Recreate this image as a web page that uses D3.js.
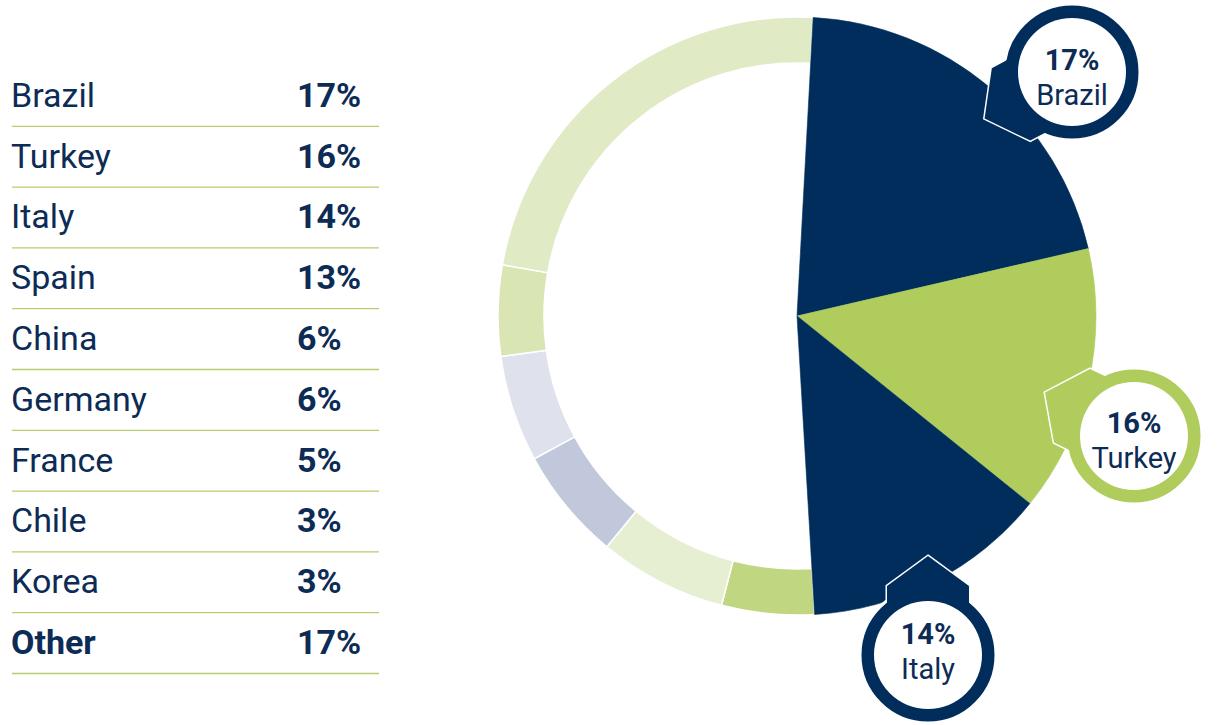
<!DOCTYPE html>
<html>
<head>
<meta charset="utf-8">
<script src="https://cdn.jsdelivr.net/npm/d3@7"></script>
<style>
  html, body { margin: 0; padding: 0; background: #ffffff; }
  svg { display: block; }
  text { font-family: Roboto, "Noto Sans", sans-serif; }
</style>
</head>
<body>
<svg id="chart" width="1219" height="725"></svg>
<script>
// ---- data ----
const countries = ["Brazil", "Turkey", "Italy", "Spain", "China", "Germany", "France", "Chile", "Korea", "Other"];
const shares = [17, 16, 14, 13, 6, 6, 5, 3, 3, 17];
const shareLabels = ["17%", "16%", "14%", "13%", "6%", "6%", "5%", "3%", "3%", "17%"];

// pie slices as drawn in the picture (share of the full circle, %)
const pieSliceShares = [20.5, 14.4, 13.25, 5.0, 6.9, 6.1, 5.75, 4.9, 23.1];
const pieSliceKinds = ["full", "full", "full", "ring", "ring", "ring", "ring", "ring", "ring"];
const pieSliceColors = ["#002d5b", "#afcc5d", "#002d5b", "#c1d680", "#e7efd3", "#c2c8db", "#dfe1ed", "#d9e5b3", "#e0eac5"];

// callouts
const calloutCountries = ["Brazil", "Turkey", "Italy"];
const calloutColors = ["#002d5b", "#afcc5d", "#002d5b"];

// ---- layout ----
const svg = d3.select("#chart");
const navyText = "#0c2b55";
const lineGreen = "#b4cf6b";

// table
const rowY = d3.scaleBand().domain(countries).range([65, 673]).paddingInner(0).paddingOuter(0);
const table = svg.append("g");
countries.forEach((c, i) => {
  const y0 = rowY(c);
  const bottom = y0 + rowY.bandwidth();
  table.append("line")
    .attr("x1", 12).attr("x2", 379)
    .attr("y1", bottom + 0.5).attr("y2", bottom + 0.5)
    .attr("stroke", lineGreen).attr("stroke-width", 1.3);
  table.append("text")
    .attr("x", 11).attr("y", bottom - 19)
    .attr("fill", navyText)
    .attr("font-size", 34)
    .attr("font-weight", c === "Other" ? 700 : 400)
    .text(c);
  table.append("text")
    .attr("x", 297).attr("y", bottom - 19)
    .attr("fill", navyText)
    .attr("font-size", 34)
    .attr("font-weight", 700)
    .text(shareLabels[i]);
});

// pie
const cx = 797, cy = 316, rOuter = 299, rInner = 253;
const deg = Math.PI / 180;
const pie = d3.pie().sort(null).value(d => d.v)
  .startAngle(3.1 * deg).endAngle((360 + 3.1) * deg);
const pieData = pie(pieSliceShares.map((v, i) => ({ v, kind: pieSliceKinds[i], color: pieSliceColors[i] })));
const arcFull = d3.arc().innerRadius(0).outerRadius(rOuter);
const arcRing = d3.arc().innerRadius(rInner).outerRadius(rOuter);
const pg = svg.append("g").attr("transform", `translate(${cx},${cy})`);
pg.selectAll("path.ring").data(pieData.filter(d => d.data.kind === "ring")).join("path")
  .attr("class", "ring")
  .attr("d", arcRing)
  .attr("fill", d => d.data.color)
  .attr("stroke", "#ffffff").attr("stroke-width", 1.5);
pg.selectAll("path.full").data(pieData.filter(d => d.data.kind === "full")).join("path")
  .attr("class", "full")
  .attr("d", arcFull)
  .attr("fill", d => d.data.color)
  .attr("stroke", d => d.data.color).attr("stroke-width", 0.6);

// callouts
const calloutCfg = {
  Brazil: { x: 1072, y: 72, dir: 152, d1: -2, d2: 33 },
  Turkey: { x: 1134, y: 436, dir: 206, d1: -3, d2: 32 },
  Italy:  { x: 928, y: 655, dir: -90, d1: -11, d2: 24 }
};
const R = 68, ringW = 14;
const house = [[99, 0], [69, 41], [48, 41], [48, -41], [69, -41]];
calloutCountries.forEach((c, k) => {
  const cfg = calloutCfg[c];
  const col = calloutColors[k];
  const a = cfg.dir * deg;
  const pts = house.map(([u, v]) => [cfg.x + u * Math.cos(a) - v * Math.sin(a), cfg.y + u * Math.sin(a) + v * Math.cos(a)]);
  const g = svg.append("g");
  const poly = d3.line()(pts) + "Z";
  g.append("path").attr("d", poly).attr("fill", col).attr("stroke", "#ffffff").attr("stroke-width", 3).attr("stroke-linejoin", "miter");
  g.append("circle").attr("cx", cfg.x).attr("cy", cfg.y).attr("r", R).attr("fill", col).attr("stroke", "#ffffff").attr("stroke-width", 3);
  g.append("path").attr("d", poly).attr("fill", col);
  g.append("circle").attr("cx", cfg.x).attr("cy", cfg.y).attr("r", R - ringW).attr("fill", "#ffffff");
  const i = countries.indexOf(c);
  g.append("text").attr("x", cfg.x).attr("y", cfg.y + cfg.d1)
    .attr("text-anchor", "middle").attr("fill", navyText)
    .attr("font-size", 29).attr("font-weight", 700)
    .text(shareLabels[i]);
  g.append("text").attr("x", cfg.x).attr("y", cfg.y + cfg.d2)
    .attr("text-anchor", "middle").attr("fill", navyText)
    .attr("font-size", 29).attr("font-weight", 400)
    .text(c);
});
</script>
</body>
</html>
